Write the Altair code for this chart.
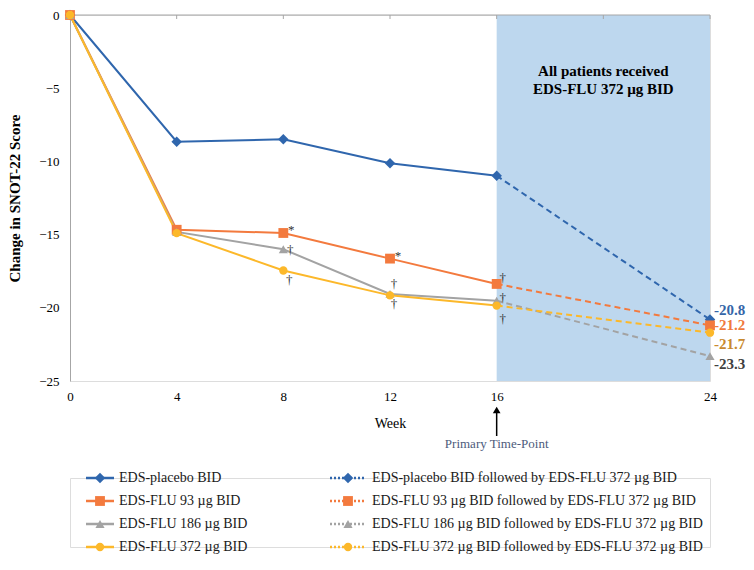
import altair as alt
import pandas as pd

# ---------------- data ----------------
series = ["EDS-placebo BID", "EDS-FLU 93 µg BID", "EDS-FLU 186 µg BID", "EDS-FLU 372 µg BID"]
followed = [s + " followed by EDS-FLU 372 µg BID" for s in series]
weeks = [0, 4, 8, 12, 16]
placebo = [0, -8.65, -8.49, -10.13, -10.98]
flu93 = [0, -14.67, -14.89, -16.64, -18.37]
flu186 = [0, -14.82, -16.0, -19.05, -19.52]
flu372 = [0, -14.9, -17.45, -19.15, -19.85]
week24 = 24
week24_values = [-20.8, -21.2, -23.3, -21.7]
end_labels = ["-20.8", "-21.2", "-23.3", "-21.7"]
x_tick_values = [0, 4, 8, 12, 16, 24]
top_tick_values = [0, 4, 8, 12, 16, 20, 24]
y_tick_values = [0, -5, -10, -15, -20, -25]
annotations = [(1, 8, "*"), (2, 8, "†"), (3, 8, "†"),
               (1, 12, "*"), (2, 12, "†"), (3, 12, "†"),
               (1, 16, "†"), (2, 16, "†"), (3, 16, "†")]
region_text = "All patients received\nEDS-FLU 372 µg BID"
arrow_text = "Primary Time-Point"

# ---------------- styles ----------------
colors = ["#2f66ad", "#f37a3e", "#a3a3a3", "#fcb82a"]
shapes = ["diamond", "square", "triangle-up", "circle"]
sizes = [110, 70, 70, 100]
widths = [2, 2, 1.6, 2]
end_colors = ["#3566a8", "#f07a3d", "#404040", "#c98a2f"]
end_dy = [-10, 0, 8, 11]
ann_offsets = [(8, -3), (7, 1), (6, 10), (8, -3), (4, -10), (4, 9), (6, -6), (6, -3), (6, 13)]
FONT = "Liberation Serif"

values_by_series = [placebo, flu93, flu186, flu372]
solid_rows, dash_rows, point_rows = [], [], []
for i, s in enumerate(series):
    for w, v in zip(weeks, values_by_series[i]):
        solid_rows.append({"grp": s, "week": w, "value": v, "k": i})
        point_rows.append({"grp": s, "week": w, "value": v, "k": i})
    dash_rows.append({"grp": s, "week": weeks[-1], "value": values_by_series[i][-1], "k": i})
    dash_rows.append({"grp": s, "week": week24, "value": week24_values[i], "k": i})
    point_rows.append({"grp": s, "week": week24, "value": week24_values[i], "k": i})
solid_df = pd.DataFrame(solid_rows)
dash_df = pd.DataFrame(dash_rows)
point_df = pd.DataFrame(point_rows)

xscale = alt.Scale(domain=[0, 24], nice=False, zero=False)
yscale = alt.Scale(domain=[-25, 0], nice=False, zero=False)
xaxis = alt.Axis(values=x_tick_values, grid=False, ticks=False, domain=False,
                 labelPadding=9, labelFontSize=13, labelColor="black", labelFlush=False,
                 titleFontSize=14, titleFontWeight="normal", titlePadding=13, titleColor="black",
                 labelFont=FONT, titleFont=FONT)
yaxis = alt.Axis(values=y_tick_values, grid=False, ticks=False, domainColor="#a6a6a6",
                 labelPadding=11, labelFontSize=13, labelColor="black", labelFlush=False,
                 titleFontSize=15, titleFontWeight="bold", titlePadding=16, titleColor="black",
                 labelFont=FONT, titleFont=FONT)


def X(f="week"):
    return alt.X(f"{f}:Q", scale=xscale, axis=xaxis, title="Week")


def Y(f="value"):
    return alt.Y(f"{f}:Q", scale=yscale, axis=yaxis, title="Change in SNOT-22 Score")


color = alt.Color("grp:N", scale=alt.Scale(domain=series, range=colors), legend=None)
shape = alt.Shape("grp:N", scale=alt.Scale(domain=series, range=shapes), legend=None)
size = alt.Size("grp:N", scale=alt.Scale(domain=series, range=sizes), legend=None)
swidth = alt.StrokeWidth("grp:N", scale=alt.Scale(domain=series, range=widths), legend=None)

region = alt.Chart(pd.DataFrame({"week": [16], "week2": [24], "value": [0], "value2": [-25]})).mark_rect(
    color="#bdd7ee").encode(x=X(), x2="week2:Q", y=Y(), y2="value2:Q")

top_line = alt.Chart(pd.DataFrame({"week": [0], "week2": [24], "value": [0]})).mark_rule(
    color="#a6a6a6", strokeWidth=1).encode(x=X(), x2="week2:Q", y=Y())

top_ticks = alt.Chart(pd.DataFrame({"week": top_tick_values, "value": [0] * len(top_tick_values)})).mark_rule(
    color="#a6a6a6", strokeWidth=1, y2Offset=4).encode(x=X(), y=Y(), y2="value:Q")

dashed = alt.Chart(dash_df).mark_line(strokeDash=[6, 4], strokeWidth=2).encode(
    x=X(), y=Y(), color=color, detail="grp:N", order="k:Q")

solid = alt.Chart(solid_df).mark_line().encode(
    x=X(), y=Y(), color=color, strokeWidth=swidth, detail="grp:N")

points = alt.Chart(point_df).mark_point(filled=True, opacity=1).encode(
    x=X(), y=Y(), color=color, shape=shape, size=size, order="k:Q")

region_label = alt.Chart(pd.DataFrame({"week": [20], "value": [-3.8], "t": [region_text]})).mark_text(
    font=FONT, fontSize=15, fontWeight="bold", color="black", lineBreak="\n", lineHeight=18,
    align="center", baseline="middle").encode(x=X(), y=Y(), text="t:N")

arrow_df = pd.DataFrame({"week": [16], "value": [-25], "t": [arrow_text]})
arrow_shaft = alt.Chart(arrow_df).mark_rule(color="black", strokeWidth=1.5, yOffset=32, y2Offset=55).encode(
    x=X(), y=Y(), y2="value:Q")
arrow_head = alt.Chart(arrow_df).mark_point(shape="triangle-up", filled=True, color="black", opacity=1,
                                            size=60, yOffset=29).encode(x=X(), y=Y())
arrow_label = alt.Chart(arrow_df).mark_text(font=FONT, fontSize=13, color="#4d5b7c", dy=63,
                                            baseline="middle").encode(x=X(), y=Y(), text="t:N")

layers = [region, top_line, top_ticks, dashed, solid, points, region_label,
          arrow_shaft, arrow_head, arrow_label]

for i in range(4):
    d = pd.DataFrame({"week": [week24], "value": [week24_values[i]], "t": [end_labels[i]]})
    layers.append(alt.Chart(d).mark_text(font=FONT, fontSize=15, fontWeight="bold", color=end_colors[i],
                                         align="left", baseline="middle", dx=4, dy=end_dy[i]).encode(
        x=X(), y=Y(), text="t:N"))

for (si, wk, sym), (dx, dy) in zip(annotations, ann_offsets):
    v = values_by_series[si][weeks.index(wk)]
    d = pd.DataFrame({"week": [wk], "value": [v], "t": [sym]})
    layers.append(alt.Chart(d).mark_text(font=FONT, fontSize=13, color="#333333", align="center",
                                         baseline="middle", dx=dx, dy=dy).encode(
        x=X(), y=Y(), text="t:N"))

main = alt.layer(*layers).properties(width=640, height=366)

# ---------------- legend ----------------
leg_rows = []
for i in range(4):
    leg_rows.append({"label": series[i], "grp": series[i], "col": 0, "row": i})
    leg_rows.append({"label": followed[i], "grp": series[i], "col": 1, "row": i})
leg_df = pd.DataFrame(leg_rows)

LX = alt.X("col:Q", scale=alt.Scale(domain=[0, 1], range=[30, 278]), axis=None)
LY = alt.Y("row:Q", scale=alt.Scale(domain=[0, 3], range=[0, 69]), axis=None)

leg_base = alt.Chart(leg_df)
leg_solid = leg_base.transform_filter("datum.col == 0").mark_rule(
    strokeWidth=2.5, xOffset=-14, x2Offset=14).encode(x=LX, x2="col:Q", y=LY, color=color)
leg_dot = leg_base.transform_filter("datum.col == 1").mark_rule(
    strokeWidth=2.5, strokeDash=[2, 2], xOffset=-18, x2Offset=18).encode(x=LX, x2="col:Q", y=LY, color=color)
leg_pts = leg_base.mark_point(filled=True, opacity=1).encode(x=LX, y=LY, color=color, shape=shape, size=size)
leg_txt0 = leg_base.transform_filter("datum.col == 0").mark_text(
    font=FONT, fontSize=14, color="#1a1a1a", align="left", baseline="middle", dx=19).encode(
    x=LX, y=LY, text="label:N")
leg_txt1 = leg_base.transform_filter("datum.col == 1").mark_text(
    font=FONT, fontSize=14, color="#1a1a1a", align="left", baseline="middle", dx=24).encode(
    x=LX, y=LY, text="label:N")

legend = alt.layer(leg_solid, leg_dot, leg_pts, leg_txt0, leg_txt1).properties(width=640, height=69)

chart = alt.vconcat(main, legend, spacing=18).properties(
    padding={"left": -1, "top": 0, "right": 0, "bottom": 0}
).configure_view(stroke=None).configure(font=FONT)

chart.save("out.html", embed_options={"renderer": "svg", "actions": False})
